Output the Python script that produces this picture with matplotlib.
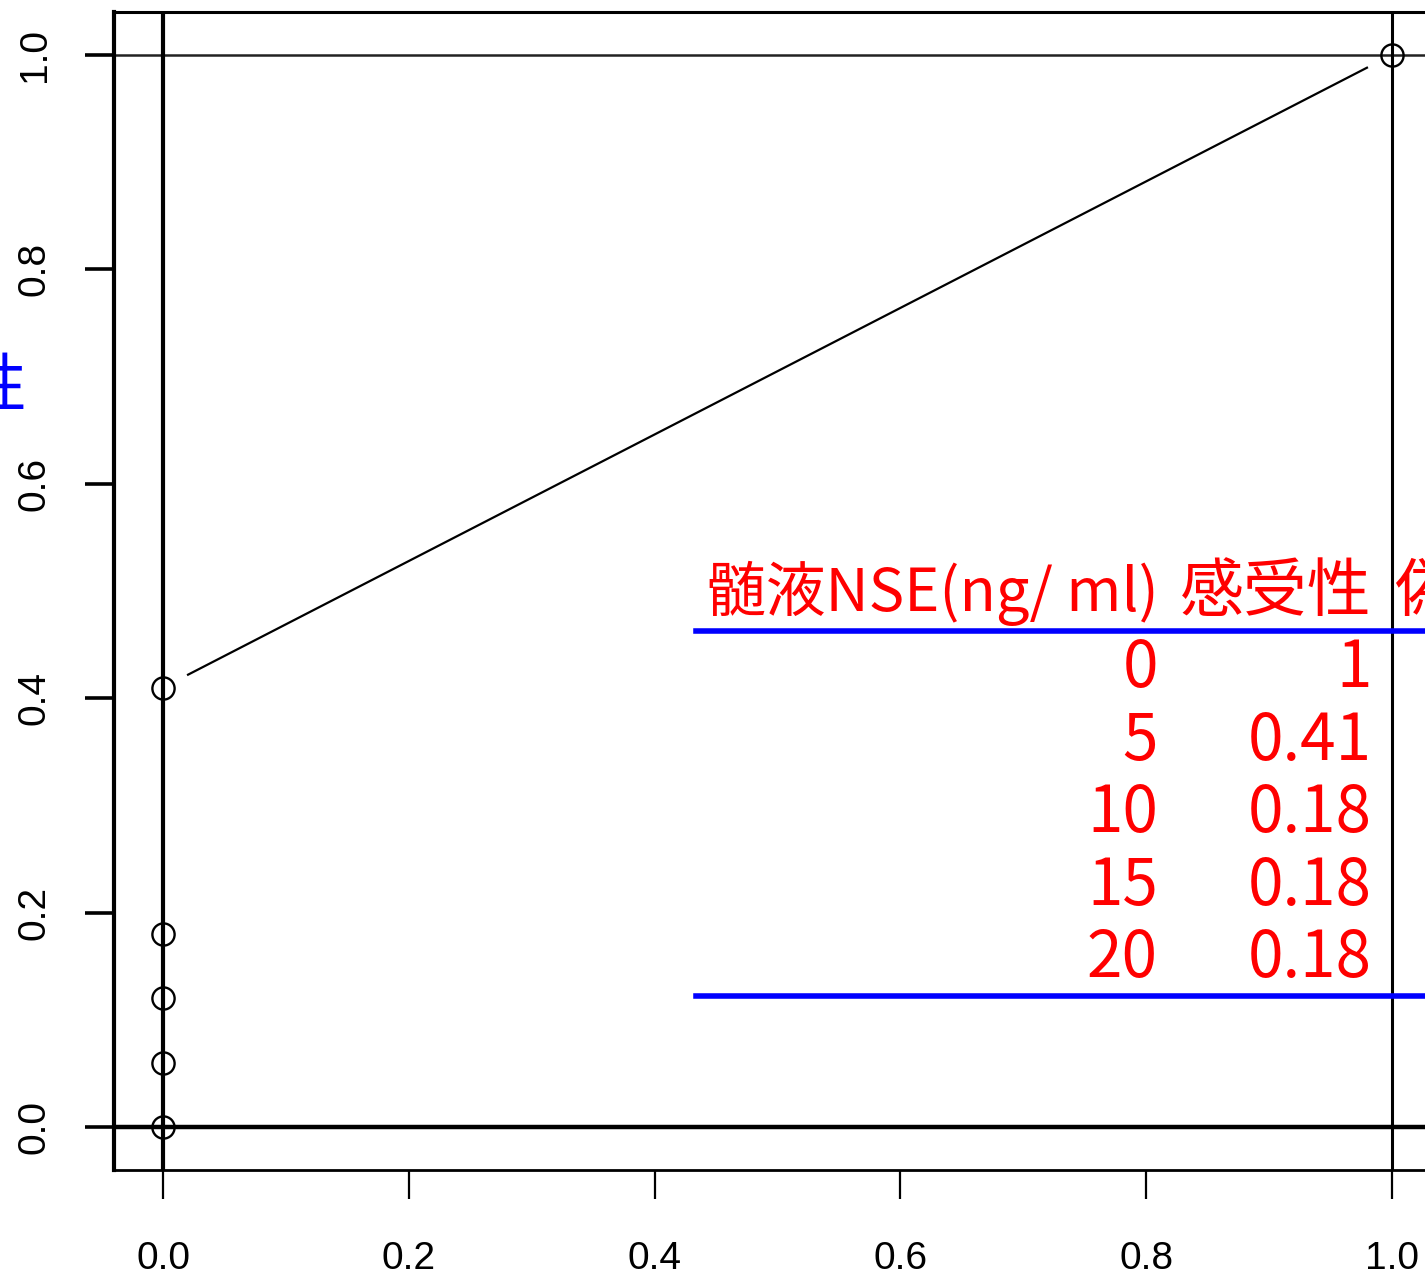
import numpy as np
import matplotlib.pyplot as plt

# ROC points (false positive rate, sensitivity)
fpr = [1.0, 0.0, 0.0, 0.0, 0.0, 0.0]
tpr = [1.0, 0.41, 0.18, 0.12, 0.06, 0.0]

# table drawn inside the plot
header = ["髄液NSE(ng/ ml)", "感受性", "偽陽性率"]
cutoffs = ["0", "5", "10", "15", "20"]
sens = ["1", "0.41", "0.18", "0.18", "0.18"]

ticks = [0.0, 0.2, 0.4, 0.6, 0.8, 1.0]
tick_labels = ["0.0", "0.2", "0.4", "0.6", "0.8", "1.0"]

W, H = 1425, 1275
fig = plt.figure(figsize=(W / 100, H / 100), dpi=100)
# the original is cropped: the right side of the box lies outside the picture
ax = fig.add_axes([114 / W, 105 / H, 1327 / W, 1158 / H])
ax.set_xlim(-0.04, 1.04)
ax.set_ylim(-0.04, 1.04)

for side, lw in [("left", 3.0), ("bottom", 2.0), ("top", 2.2), ("right", 2.2)]:
    ax.spines[side].set_linewidth(lw)

ax.set_xticks(ticks)
ax.set_xticklabels(tick_labels, family="Liberation Sans", fontsize=28)
ax.set_yticks(ticks)
ax.set_yticklabels(tick_labels, family="Liberation Sans", fontsize=28,
                   rotation=90, va="center")
ax.tick_params(axis="x", length=21, width=1.6, pad=30)
ax.tick_params(axis="y", length=21, width=2.6, pad=23)

# reference lines
ax.axhline(0, color="black", lw=3.2)
ax.axhline(1, color="#222222", lw=1.8)
ax.axvline(0, color="black", lw=3.0)
ax.axvline(1, color="black", lw=2.2)

# type="b": segments stop short of the points
gap = 28
pts = ax.transData.transform(np.column_stack([fpr, tpr]))
inv = ax.transData.inverted()
for p, q in zip(pts[:-1], pts[1:]):
    d = q - p
    L = np.hypot(*d)
    if L <= 2 * gap:
        continue
    u = d / L
    seg = inv.transform([p + u * gap, q - u * gap])
    ax.plot(seg[:, 0], seg[:, 1], color="black", lw=1.6)
ax.plot(fpr, tpr, "o", mfc="none", mec="black", ms=16, mew=1.7)

# table
cjk = ["Noto Sans CJK JP", "DejaVu Sans"]
fs = 46
ax.text(0.4418, 0.4813, header[0], color="red", fontsize=43, family=cjk,
        ha="left", va="baseline")
ax.text(0.9837, 0.4813, header[1], color="red", fontsize=fs, family=cjk,
        ha="right", va="baseline")
ax.text(1.0024, 0.4813, header[2], color="red", fontsize=fs, family=cjk,
        ha="left", va="baseline", clip_on=True)
y0, step = 0.4104, 0.0676
for i, (c, s) in enumerate(zip(cutoffs, sens)):
    y = y0 - i * step
    ax.text(0.8096, y, c, color="red", fontsize=fs, family=cjk,
            ha="right", va="baseline")
    ax.text(0.9837, y, s, color="red", fontsize=fs, family=cjk,
            ha="right", va="baseline")
ax.plot([0.434, 1.04], [0.463, 0.463], color="blue", lw=4)
ax.plot([0.434, 1.04], [0.122, 0.122], color="blue", lw=4)

# y label, mostly outside the picture
fig.text(28 / W, 1 - 388 / H, "感受性", color="blue", fontsize=fs,
         family=cjk, ha="right", va="center")

fig.savefig("out.png", dpi=100)
